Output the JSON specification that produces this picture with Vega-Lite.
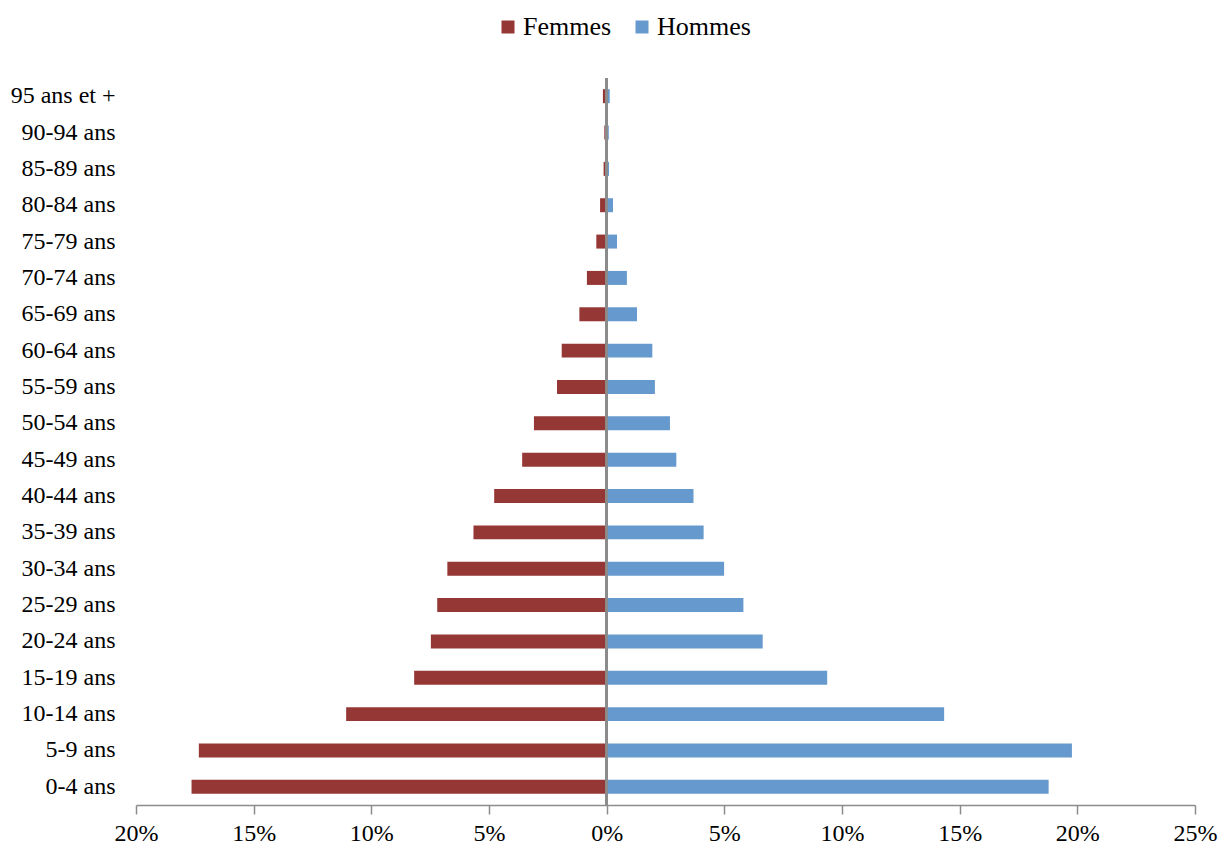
{
  "$schema": "https://vega.github.io/schema/vega-lite/v6.json",
  "autosize": {"type": "none"},
  "width": 1059,
  "height": 727,
  "padding": {"left": 136, "top": 78, "right": 25, "bottom": 40},
  "background": "white",
  "config": {
    "view": {"stroke": null},
    "font": "Liberation Serif",
    "axis": {"labelFont": "Liberation Serif", "labelColor": "#000000"},
    "legend": {"labelFont": "Liberation Serif", "labelColor": "#000000"}
  },
  "data": {
    "values": [
      {"age": "0-4 ans", "sexe": "Femmes", "part": -17.64},
      {"age": "0-4 ans", "sexe": "Hommes", "part": 18.78},
      {"age": "5-9 ans", "sexe": "Femmes", "part": -17.33},
      {"age": "5-9 ans", "sexe": "Hommes", "part": 19.77},
      {"age": "10-14 ans", "sexe": "Femmes", "part": -11.07},
      {"age": "10-14 ans", "sexe": "Hommes", "part": 14.34},
      {"age": "15-19 ans", "sexe": "Femmes", "part": -8.18},
      {"age": "15-19 ans", "sexe": "Hommes", "part": 9.37},
      {"age": "20-24 ans", "sexe": "Femmes", "part": -7.47},
      {"age": "20-24 ans", "sexe": "Hommes", "part": 6.63},
      {"age": "25-29 ans", "sexe": "Femmes", "part": -7.20},
      {"age": "25-29 ans", "sexe": "Hommes", "part": 5.81},
      {"age": "30-34 ans", "sexe": "Femmes", "part": -6.77},
      {"age": "30-34 ans", "sexe": "Hommes", "part": 4.99},
      {"age": "35-39 ans", "sexe": "Femmes", "part": -5.66},
      {"age": "35-39 ans", "sexe": "Hommes", "part": 4.12},
      {"age": "40-44 ans", "sexe": "Femmes", "part": -4.78},
      {"age": "40-44 ans", "sexe": "Hommes", "part": 3.69},
      {"age": "45-49 ans", "sexe": "Femmes", "part": -3.59},
      {"age": "45-49 ans", "sexe": "Hommes", "part": 2.96},
      {"age": "50-54 ans", "sexe": "Femmes", "part": -3.09},
      {"age": "50-54 ans", "sexe": "Hommes", "part": 2.69},
      {"age": "55-59 ans", "sexe": "Femmes", "part": -2.11},
      {"age": "55-59 ans", "sexe": "Hommes", "part": 2.05},
      {"age": "60-64 ans", "sexe": "Femmes", "part": -1.91},
      {"age": "60-64 ans", "sexe": "Hommes", "part": 1.94},
      {"age": "65-69 ans", "sexe": "Femmes", "part": -1.16},
      {"age": "65-69 ans", "sexe": "Hommes", "part": 1.29},
      {"age": "70-74 ans", "sexe": "Femmes", "part": -0.84},
      {"age": "70-74 ans", "sexe": "Hommes", "part": 0.86},
      {"age": "75-79 ans", "sexe": "Femmes", "part": -0.44},
      {"age": "75-79 ans", "sexe": "Hommes", "part": 0.44},
      {"age": "80-84 ans", "sexe": "Femmes", "part": -0.28},
      {"age": "80-84 ans", "sexe": "Hommes", "part": 0.27},
      {"age": "85-89 ans", "sexe": "Femmes", "part": -0.13},
      {"age": "85-89 ans", "sexe": "Hommes", "part": 0.10},
      {"age": "90-94 ans", "sexe": "Femmes", "part": -0.10},
      {"age": "90-94 ans", "sexe": "Hommes", "part": 0.09},
      {"age": "95 ans et +", "sexe": "Femmes", "part": -0.16},
      {"age": "95 ans et +", "sexe": "Hommes", "part": 0.13}
    ]
  },
  "layer": [
    {
      "mark": {"type": "bar"},
      "encoding": {
        "y": {
          "field": "age",
          "type": "nominal",
          "sort": null,
          "scale": {
            "reverse": true,
            "paddingInner": 0.615,
            "paddingOuter": 0.3075
          },
          "axis": {
            "title": null,
            "domain": false,
            "ticks": false,
            "labelPadding": 21,
            "labelFontSize": 24,
            "labelAlign": "right"
          }
        },
        "x": {
          "field": "part",
          "type": "quantitative",
          "scale": {"domain": [-20, 25], "nice": false, "zero": false},
          "axis": {
            "title": null,
            "values": [-20, -15, -10, -5, 0, 5, 10, 15, 20, 25],
            "labelExpr": "abs(datum.value) + '%'",
            "grid": false,
            "domainColor": "#8c8c8c",
            "domainWidth": 1.5,
            "tickColor": "#8c8c8c",
            "tickWidth": 1.5,
            "tickSize": 9,
            "labelFontSize": 24,
            "labelPadding": 7,
            "labelFlush": false
          }
        },
        "color": {
          "field": "sexe",
          "type": "nominal",
          "scale": {"domain": ["Femmes", "Hommes"], "range": ["#953735", "#6699cd"]},
          "legend": {
            "title": null,
            "orient": "none",
            "direction": "horizontal",
            "legendX": 359,
            "legendY": -64,
            "padding": 0,
            "symbolType": "square",
            "symbolSize": 169,
            "symbolStrokeWidth": 0,
            "labelFontSize": 26,
            "labelOffset": 2,
            "columnPadding": 17
          }
        }
      }
    },
    {
      "mark": {"type": "rule", "color": "#8c8c8c", "strokeWidth": 2},
      "encoding": {"x": {"datum": 0, "type": "quantitative"}}
    }
  ]
}
